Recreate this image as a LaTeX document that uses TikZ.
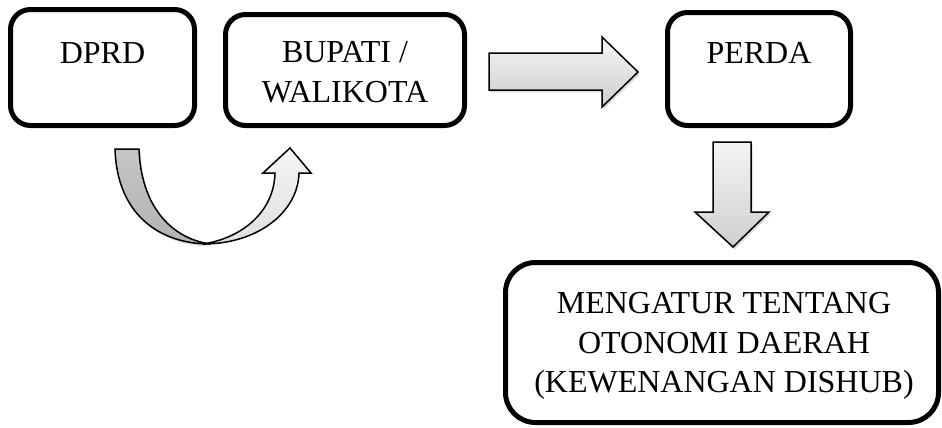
\documentclass[tikz,border=0pt]{standalone}
\usepackage{fontspec}
\setmainfont{Liberation Serif}
\usetikzlibrary{positioning,shadows}

\begin{document}
\begin{tikzpicture}[x=0.5pt, y=-0.5pt,
  box/.style={draw=black, line width=2.5pt, rounded corners=10pt, fill=white},
  lbl/.style={inner sep=0pt, anchor=north, align=center, font=\fontsize{16}{19.75}\selectfont},
  blockarrow/.style={draw=black, line width=0.75pt, line join=miter, top color=gray!8, bottom color=gray!38,
    drop shadow={opacity=0.3, shadow xshift=0.8pt, shadow yshift=-1.2pt}}]
\useasboundingbox (0,0) rectangle (942,428);

\node[box, minimum width=92pt, minimum height=58pt] (dprd) at (102.5,67.5) {};
\node[box, minimum width=119.5pt, minimum height=55.5pt] (bupati) at (345,70) {};
\node[box, minimum width=91.5pt, minimum height=56.5pt] (perda) at (759,69) {};
\node[box, rounded corners=15pt, minimum width=216.5pt, minimum height=80pt] (otonomi) at (722,342.5) {};

\node[lbl, below=17.5pt of dprd.north] (dprdtxt) {DPRD};
\node[lbl, below=14.5pt of bupati.north] (bupatitxt) {BUPATI /\\WALIKOTA};
\node[lbl, below=16pt of perda.north] (perdatxt) {PERDA};
\node[lbl, below=16pt of otonomi.north, xshift=1pt] (otonomitxt) {MENGATUR TENTANG\\OTONOMI DAERAH\\(KEWENANGAN DISHUB)};

% curved arrow from DPRD to BUPATI
\filldraw[draw=black, line width=0.75pt, top color=gray!45, bottom color=gray!60,
  drop shadow={opacity=0.3, shadow xshift=0.8pt, shadow yshift=-1.2pt}]
  (115,149) .. controls (117,215) and (160,244) .. (210,244)
  .. controls (170,238) and (141,205) .. (139,149) -- cycle;
\filldraw[draw=black, line width=0.75pt, line join=miter, top color=gray!8, bottom color=gray!25]
  (203,244) .. controls (258,244) and (298,212) .. (299,173)
  -- (311,173) -- (290,148) -- (263,173) -- (275,173)
  .. controls (274,212) and (242,238) .. (203,244) -- cycle;

% block arrows
\filldraw[blockarrow] (489,53) -- (602,53) -- (602,37) -- (638,72) -- (602,107) -- (602,90) -- (489,90) -- cycle;
\filldraw[blockarrow] (713,142) -- (751,142) -- (751,212) -- (769,212) -- (733,247) -- (695,212) -- (713,212) -- cycle;
\end{tikzpicture}
\end{document}
